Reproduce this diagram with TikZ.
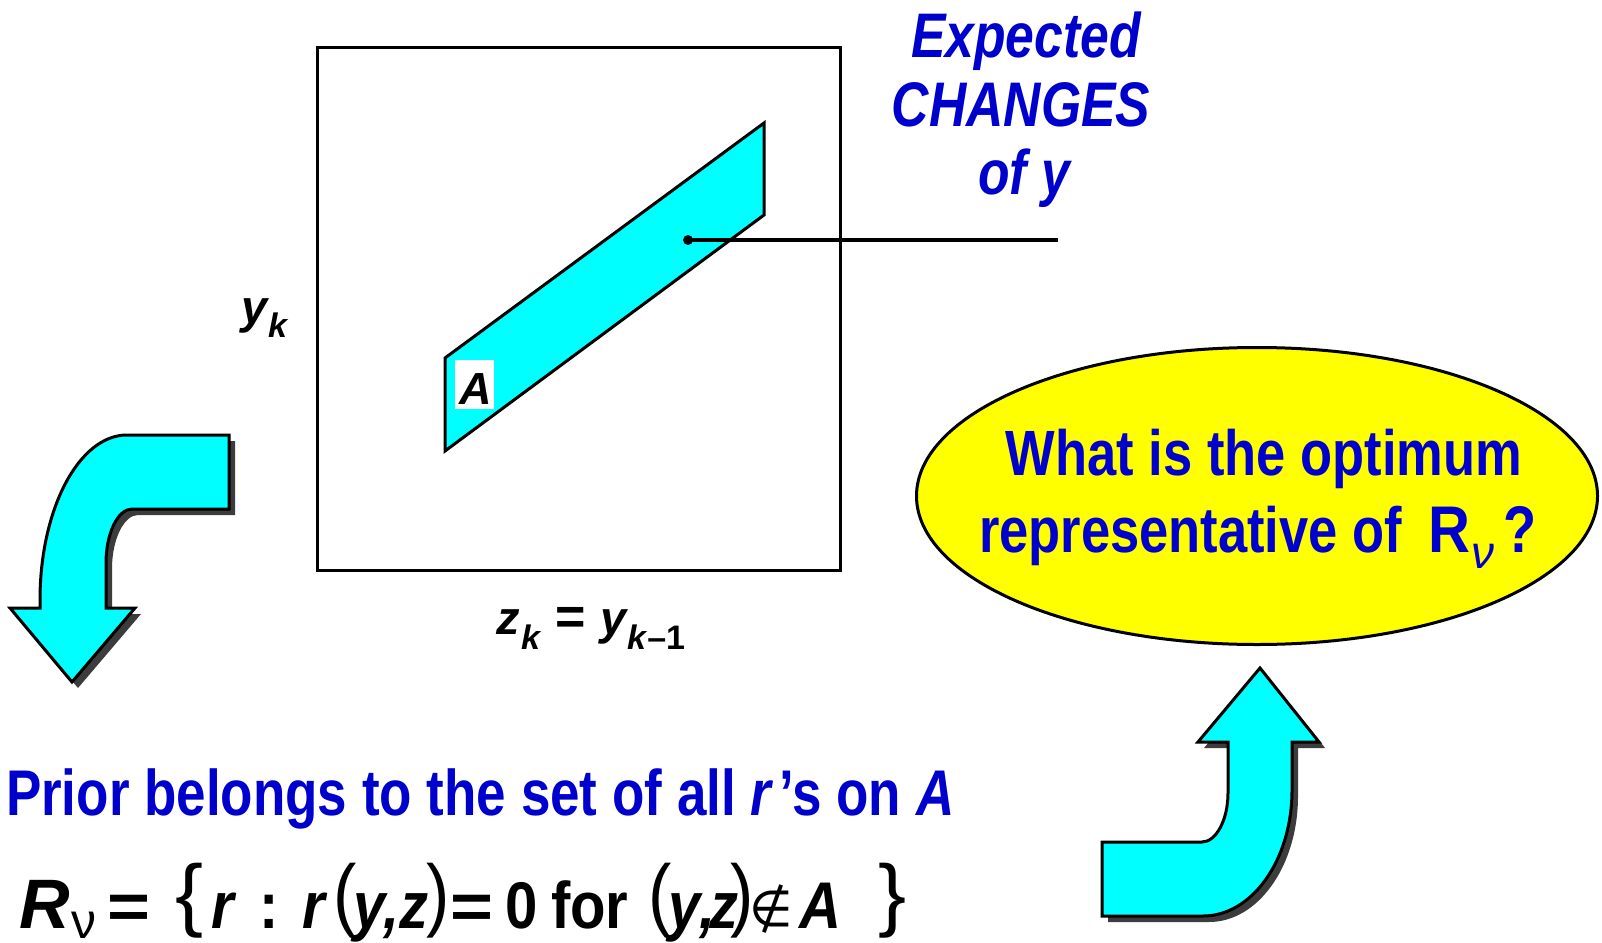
\documentclass[tikz,border=0pt]{standalone}
\usepackage{fontspec}
\setmainfont{Liberation Sans}
\newfontfamily\nar{Liberation Sans}[FakeStretch=0.82]
\newfontfamily\narf{Liberation Sans}[FakeStretch=0.88]
\newfontfamily\wid{Liberation Sans}
\newfontfamily\djv{DejaVu Sans}
\usetikzlibrary{shapes.geometric,shadows}
\definecolor{tblue}{RGB}{0,0,204}
\definecolor{acyan}{RGB}{0,255,255}
\definecolor{eyellow}{RGB}{255,255,0}
\definecolor{shgray}{RGB}{60,60,60}
\newcommand\fsz[1]{\fontsize{#1}{#1}\selectfont}
\begin{document}
\begin{tikzpicture}[x=1pt,y=-1pt,
  lbl/.style={inner sep=0pt, outer sep=0pt, anchor=base west},
  ctr/.style={inner sep=0pt, outer sep=0pt, anchor=base},
  bluetxt/.style={text=tblue, font=\nar\bfseries\fsz{64}},
  exptxt/.style={ctr, text=tblue, font=\nar\bfseries\itshape\fsz{63}},
  axtxt/.style={lbl, text=black, font=\wid\bfseries\itshape\fsz{47}},
  axsub/.style={lbl, text=black, font=\wid\bfseries\itshape\fsz{34}},
  fml/.style={lbl, text=black, font=\narf\bfseries\itshape\fsz{66}},
  fmlup/.style={lbl, text=black, font=\narf\bfseries\fsz{66}},
  fmleq/.style={lbl, text=black, font=\wid\bfseries\fsz{64}},
  fmlthin/.style={lbl, text=black, font=\wid\fsz{70}},
  bigarrow/.style={fill=acyan, draw=black, line width=3pt, line join=miter,
    drop shadow={shadow xshift=6pt, shadow yshift=-6pt, fill=shgray, opacity=1}},
  thick3/.style={line width=3pt}
]
\path[use as bounding box] (0,0) rectangle (1602,942);

% square frame and region A
\draw[thick3] (317,48) rectangle (840,570);
\draw[thick3, fill=acyan, line join=miter] (445,358) -- (764,123) -- (764,215) -- (445,451) -- cycle;
\node[fill=white, inner sep=0pt, minimum width=39pt, minimum height=49pt] (Abox) at (474.5,384) {};
\node[lbl, font=\wid\bfseries\itshape\fsz{45}] (Alab) at (459,404) {A};

% pointer line
\node[circle, fill=black, inner sep=0pt, minimum size=10pt] (dot) at (688,240) {};
\coordinate (lend) at (1058,240);
\draw[line width=3.5pt] (dot.center) -- (lend);

% Expected changes
\node[exptxt] (e1) at (1026,57) {Expected};
\node[exptxt] (e2) at (1021,126) {CHANGES};
\node[exptxt] (e3) at (1024,194) {of y};

% axis labels
\node[axtxt] (yk) at (241,323) {y};
\node[axsub] (ykk) at (268,337) {k};
\node[axtxt] (zk) at (496,634) {z};
\node[axsub] (zkk) at (521,649) {k};
\node[lbl, font=\wid\bfseries\fsz{52}] (zeq) at (555,634) {=};
\node[axtxt] (zy) at (600,634) {y};
\node[lbl, font=\wid\bfseries\fsz{34}] (zsub) at (627,649) {\textit{k}–1};

% ellipse
\node[ellipse, draw=black, line width=3pt, fill=eyellow, minimum width=681pt, minimum height=297pt, inner sep=0pt] (ell) at (1257,496) {};
\node[ctr, bluetxt] (q1) at (1264,475) {What is the optimum};
\node[lbl, bluetxt] (q2) at (979,552) {representative of};
\node[lbl, text=tblue, font=\narf\bfseries\fsz{66}] (q2R) at (1428,552) {R};
\node[lbl, text=tblue, font=\wid\itshape\fsz{46}] (q2nu) at (1471,568) {ν};
\node[lbl, text=tblue, font=\nar\bfseries\fsz{66}] (q2q) at (1503,552) {?};

% arrows
\path[bigarrow] (127,435) -- (229,435) -- (229,509) -- (132,509)
  .. controls (118,509) and (106,533) .. (106,563) -- (106,608) -- (135,608)
  -- (72,682) -- (10,608) -- (40,608) -- (40,600)
  .. controls (40,509) and (79,435) .. (127,435) -- cycle;
\path[bigarrow] (1260,668) -- (1319,742) -- (1292,742) -- (1292,790)
  .. controls (1292,860) and (1252,916) .. (1203,916) -- (1102,916) -- (1102,842)
  -- (1202,842) .. controls (1216,842) and (1228,820) .. (1228,793)
  -- (1228,742) -- (1198,742) -- cycle;

% prior line
\node[lbl, text=tblue, font=\nar\bfseries\fsz{64.6}] (prior) at (6,815) {Prior belongs to the set of all \textit{r}\hspace{6pt}’s on \textit{A}};

% formula
\node[lbl, font=\wid\bfseries\itshape\fsz{70}] (f1) at (19,928) {R};
\node[lbl, font=\wid\fsz{50}] (f2) at (71,938) {ν};
\node[fmleq] (f3) at (107,928) {\scalebox{1.15}[1]{=}};
\node[fmlthin] (f4) at (175,921) {\scalebox{1.2}[1.15]{\{}};
\node[fml] (f5) at (211,928) {r};
\node[fmlup] (f6) at (259,928) {:};
\node[fml] (f7) at (302,928) {r};
\node[fmlthin] (f8) at (333,921) {\scalebox{1}[1.15]{(}};
\node[fml] (f9) at (353,928) {y,z};
\node[fmlthin] (f10) at (426,921) {\scalebox{1}[1.15]{)}};
\node[fmleq] (f11) at (450,928) {\scalebox{1.15}[1]{=}};
\node[fmlup] (f12) at (505,928) {0};
\node[fmlup] (f13) at (551,928) {for};
\node[fmlthin] (f14) at (648,921) {\scalebox{1}[1.15]{(}};
\node[fml] (f15) at (668,928) {y};
\node[fml] (f16) at (699,928) {,};
\node[fml] (f17) at (709,928) {z};
\node[fmlthin] (f18) at (730,921) {\scalebox{1}[1.15]{)}};
\node[lbl, font=\djv\fsz{50}] (f19) at (749,926) {∉};
\node[fml] (f20) at (799,928) {A};
\node[fmlthin] (f21) at (878,921) {\scalebox{1.2}[1.15]{\}}};
\end{tikzpicture}
\end{document}
